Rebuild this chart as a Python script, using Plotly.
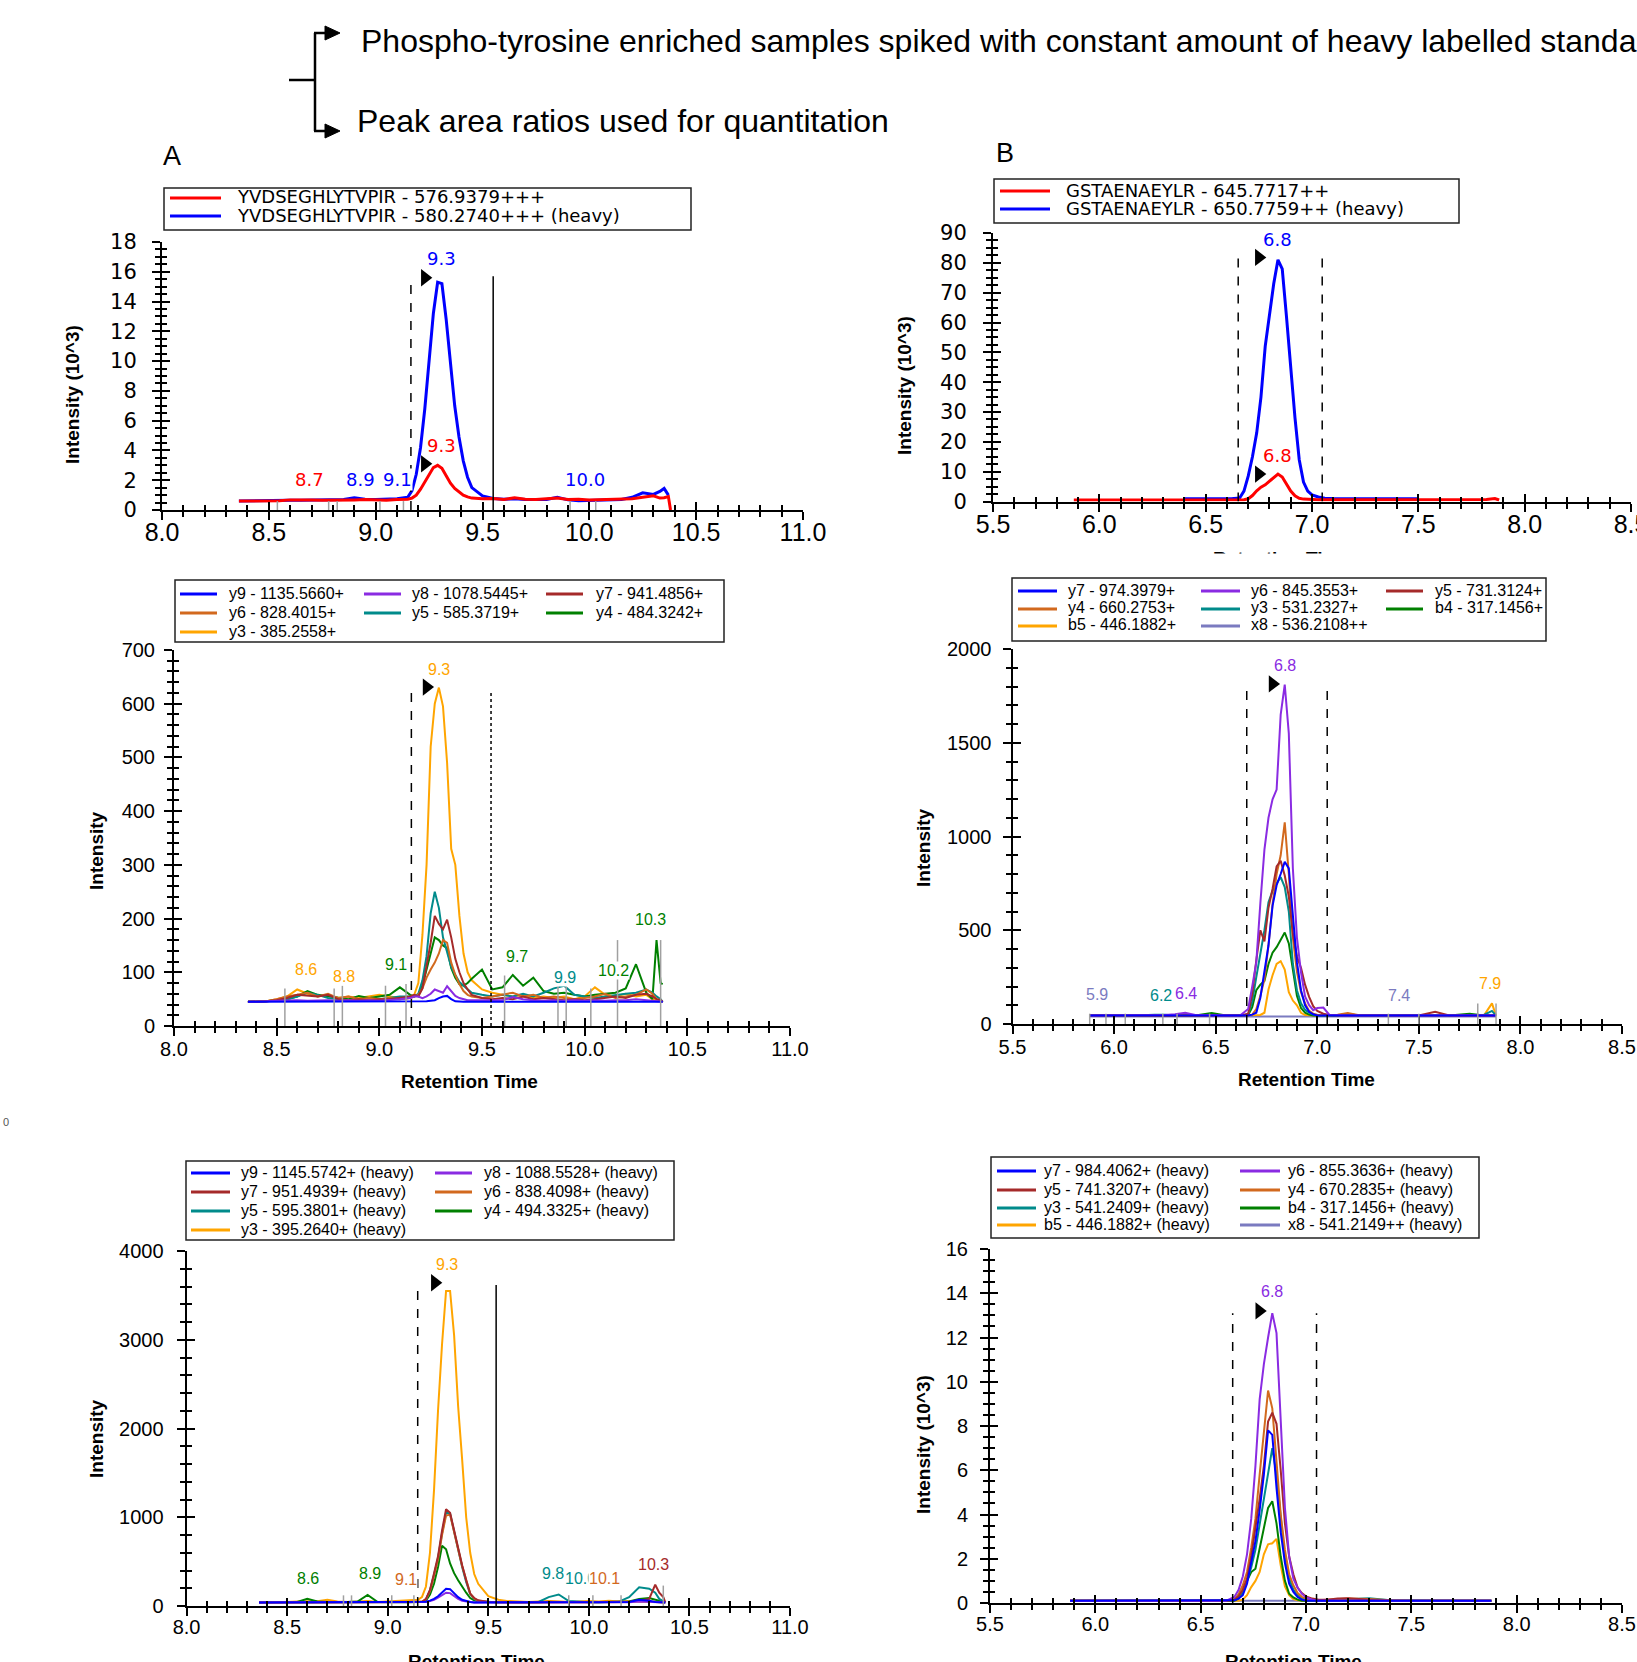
import plotly.graph_objects as go

W, H = 1637, 1662

# ---------------- data ----------------
xA = [8.36, 8.40, 8.45, 8.50, 8.55, 8.60, 8.65, 8.70, 8.75, 8.80,
      8.85, 8.90, 8.95, 9.00, 9.05, 9.10, 9.15, 9.17, 9.19, 9.21,
      9.23, 9.25, 9.27, 9.29, 9.31, 9.33, 9.35, 9.37, 9.39, 9.41,
      9.43, 9.45, 9.50, 9.55, 9.60, 9.65, 9.70, 9.75, 9.80, 9.85,
      9.90, 9.95, 10.00, 10.05, 10.10, 10.15, 10.20, 10.25, 10.30, 10.33,
      10.35, 10.37, 10.38]
xB = [5.88, 5.95, 6.00, 6.10, 6.20, 6.25, 6.30, 6.35, 6.40, 6.48,
      6.55, 6.62, 6.66, 6.68, 6.70, 6.72, 6.74, 6.76, 6.78, 6.80,
      6.82, 6.84, 6.86, 6.88, 6.90, 6.92, 6.94, 6.96, 6.98, 7.00,
      7.03, 7.06, 7.10, 7.15, 7.20, 7.30, 7.40, 7.50, 7.58, 7.65,
      7.75, 7.82, 7.86, 7.88]

# Panel A top (intensity 10^3)
a1_light = [0.60, 0.60, 0.60, 0.62, 0.62, 0.68, 0.70, 0.68, 0.66, 0.65,
            0.65, 0.68, 0.70, 0.68, 0.66, 0.70, 0.72, 0.80, 1.00, 1.40,
            1.90, 2.40, 2.85, 3.00, 2.80, 2.30, 1.80, 1.45, 1.20, 1.00,
            0.88, 0.80, 0.75, 0.78, 0.70, 0.82, 0.72, 0.70, 0.75, 0.80,
            0.70, 0.72, 0.68, 0.70, 0.68, 0.72, 0.75, 0.85, 0.95, 0.80,
            0.82, 0.90, 0.00]
a1_heavy = [0.60, 0.60, 0.60, 0.62, 0.62, 0.65, 0.66, 0.66, 0.65, 0.65,
            0.70, 0.82, 0.72, 0.70, 0.72, 0.75, 0.85, 1.30, 2.40, 4.20,
            6.80, 10.0, 13.2, 15.3, 15.2, 12.8, 9.80, 7.00, 4.90, 3.30,
            2.20, 1.50, 0.95, 0.78, 0.72, 0.75, 0.70, 0.72, 0.70, 0.85,
            0.68, 0.62, 0.65, 0.66, 0.68, 0.70, 0.85, 1.15, 1.05, 1.25,
            1.45, 1.00, None]

# Panel A middle (light transitions)
a2_y9 = [45, 45, 45, 45, 45, 45, 45, 45, 45, 45,
         45, 45, 45, 45, 45, 45, 45, 45, 45, 46,
         46, 47, 48, 52, 55, 56, 50, 46, 45, 45,
         45, 45, 45, 45, 45, 45, 45, 45, 45, 45,
         45, 45, 45, 45, 45, 45, 45, 45, 45, 45,
         45, 45, 45]
a2_y8 = [45, 45, 46, 47, 48, 48, 47, 48, 48, 47,
         48, 47, 48, 47, 48, 50, 52, 55, 55, 52,
         55, 60, 68, 65, 62, 74, 65, 56, 52, 50,
         48, 48, 48, 47, 48, 54, 50, 48, 47, 48,
         47, 48, 47, 48, 47, 48, 48, 50, 48, 48,
         47, 46, 45]
a2_y7 = [45, 45, 46, 48, 52, 58, 56, 55, 58, 50,
         48, 50, 48, 50, 50, 52, 55, 58, 55, 70,
         110, 155, 205, 190, 180, 198, 165, 125, 100, 80,
         68, 58, 52, 50, 52, 50, 55, 50, 52, 50,
         48, 50, 48, 50, 52, 55, 52, 58, 60, 55,
         50, 48, 45]
a2_y6 = [45, 45, 46, 50, 55, 58, 62, 55, 60, 52,
         55, 50, 52, 50, 52, 50, 52, 55, 58, 70,
         90, 105, 118, 135, 160, 155, 118, 95, 78, 65,
         58, 55, 52, 55, 58, 62, 55, 58, 52, 55,
         52, 50, 52, 55, 60, 52, 55, 58, 68, 60,
         50, 48, 45]
a2_y5 = [45, 45, 46, 48, 50, 55, 62, 58, 52, 50,
         48, 50, 48, 50, 52, 55, 55, 55, 60, 85,
         130, 210, 250, 220, 165, 135, 110, 95, 82, 75,
         68, 62, 58, 55, 58, 55, 60, 55, 62, 70,
         75, 58, 55, 52, 55, 58, 60, 62, 68, 62,
         55, 50, 45]
a2_y4 = [45, 45, 46, 48, 50, 55, 65, 58, 55, 52,
         50, 56, 52, 55, 58, 72, 58, 55, 58, 75,
         105, 135, 165, 160, 150, 145, 108, 90, 78, 75,
         80, 88, 105, 68, 72, 95, 75, 90, 65, 60,
         62, 58, 55, 58, 60, 62, 70, 115, 62, 50,
         160, 80, 78]
a2_y3 = [45, 45, 46, 50, 55, 68, 60, 55, 58, 52,
         55, 52, 55, 58, 55, 52, 55, 58, 80, 170,
         300, 520, 600, 630, 595, 490, 330, 300, 205, 135,
         100, 85, 68, 62, 58, 55, 58, 52, 55, 52,
         55, 50, 55, 72, 58, 55, 60, 55, 58, 50,
         48, 46, 45]

# Panel A bottom (heavy transitions)
a3_y9 = [40, 40, 40, 40, 40, 40, 40, 40, 40, 40,
         40, 40, 40, 40, 40, 40, 40, 42, 48, 60,
         80, 110, 150, 195, 190, 140, 100, 70, 55, 45,
         40, 40, 40, 40, 40, 40, 40, 40, 40, 42,
         40, 40, 40, 40, 40, 40, 45, 70, 60, 45,
         42, 40, 40]
a3_y8 = [40, 40, 40, 40, 40, 40, 40, 40, 40, 40,
         40, 40, 40, 40, 40, 40, 40, 42, 45, 55,
         70, 95, 125, 150, 145, 110, 80, 60, 50, 45,
         40, 40, 40, 40, 40, 40, 40, 40, 40, 40,
         40, 40, 40, 40, 40, 40, 42, 50, 45, 42,
         40, 40, 40]
a3_y7 = [40, 40, 40, 40, 40, 40, 40, 40, 40, 40,
         40, 40, 40, 40, 40, 40, 40, 45, 80, 180,
         365, 560, 850, 1090, 1050, 850, 665, 460, 290, 140,
         90, 64, 45, 40, 40, 40, 40, 40, 40, 42,
         40, 40, 40, 40, 40, 42, 45, 60, 80, 240,
         150, 100, 40]
a3_y6 = [40, 40, 40, 40, 40, 42, 45, 48, 42, 40,
         40, 42, 40, 40, 42, 45, 50, 50, 75, 170,
         340, 530, 800, 1020, 1030, 850, 640, 450, 280, 140,
         85, 58, 45, 42, 40, 42, 45, 42, 48, 45,
         42, 40, 42, 45, 48, 50, 45, 55, 50, 45,
         42, 40, 40]
a3_y5 = [40, 40, 40, 40, 42, 40, 40, 40, 40, 40,
         40, 40, 40, 40, 40, 40, 40, 45, 70, 175,
         350, 540, 820, 1050, 1040, 840, 620, 440, 270, 135,
         80, 55, 45, 42, 40, 40, 42, 45, 100, 130,
         55, 45, 42, 40, 42, 50, 100, 210, 195, 150,
         80, 55, 40]
a3_y4 = [40, 40, 40, 40, 45, 80, 50, 45, 42, 45,
         50, 125, 45, 42, 40, 42, 45, 45, 60, 130,
         250, 440, 680, 640, 480, 370, 290, 215, 150, 90,
         65, 50, 45, 42, 45, 42, 45, 42, 45, 45,
         42, 40, 42, 45, 42, 45, 50, 80, 90, 70,
         60, 50, 40]
a3_y3 = [40, 40, 45, 45, 50, 55, 55, 70, 50, 45,
         50, 55, 45, 50, 55, 60, 70, 100, 220, 600,
         1300, 2200, 2950, 3550, 3550, 3050, 2250, 1650, 1000, 600,
         360, 250, 110, 70, 55, 50, 45, 50, 55, 50,
         45, 50, 55, 50, 60, 50, 55, 50, 50, 45,
         45, 42, 40]

# Panel B top (intensity 10^3)
b1_light = [0.5, 0.5, 0.5, 0.5, 0.5, 0.5, 0.5, 0.5, 0.5, 0.5,
            0.5, 0.5, 0.5, 0.6, 0.9, 2.0, 3.6, 4.8, 5.6, 6.8,
            8.0, 9.2, 8.2, 5.6, 3.5, 1.9, 1.1, 0.8, 0.7, 0.7,
            0.6, 0.6, 0.6, 0.6, 0.6, 0.6, 0.6, 0.6, 0.6, 0.6,
            0.6, 0.7, 1.0, 0.5]
b1_heavy = [None, None, None, None, None, None, None, None, 0.9, 0.9,
            0.9, 0.9, 1.2, 3.5, 8.5, 15.0, 23.0, 35.0, 52.0, 62.0,
            73.0, 81.0, 78.0, 62.0, 44.0, 28.0, 14.0, 6.5, 3.5, 2.2,
            1.5, 1.1, 1.0, 1.0, 1.0, 1.0, 0.9, 0.9, None, None,
            None, None, None, None]

# Panel B middle (light transitions)
b2_y7 = [45, 45, 45, 45, 45, 45, 45, 45, 45, 45,
         45, 45, 46, 50, 60, 140, 270, 420, 630, 740,
         800, 865, 830, 600, 330, 180, 100, 65, 52, 45,
         45, 45, 45, 45, 45, 45, 45, 45, 45, 45,
         45, 45, 45, 45]
b2_y6 = [45, 45, 45, 45, 45, 48, 52, 60, 48, 45,
         45, 45, 80, 200, 330, 645, 930, 1100, 1198, 1250,
         1650, 1810, 1550, 829, 461, 276, 147, 100, 74, 85,
         88, 48, 45, 45, 45, 45, 45, 45, 45, 45,
         45, 45, 45, 45]
b2_y5 = [45, 45, 45, 45, 45, 45, 45, 45, 45, 45,
         45, 45, 55, 160, 340, 500, 440, 620, 720, 840,
         870, 792, 680, 480, 360, 300, 210, 145, 95, 70,
         55, 48, 45, 45, 45, 45, 45, 45, 65, 45,
         45, 45, 45, 45]
b2_y4 = [45, 45, 45, 45, 45, 45, 45, 45, 45, 45,
         45, 45, 45, 50, 80, 150, 240, 420, 640, 800,
         900, 1075, 800, 461, 280, 170, 110, 70, 55, 50,
         48, 45, 50, 58, 48, 45, 45, 45, 45, 45,
         45, 45, 45, 45]
b2_y3 = [45, 45, 45, 45, 50, 50, 45, 45, 45, 45,
         45, 45, 50, 120, 250, 369, 500, 650, 710, 750,
         783, 730, 600, 320, 180, 110, 75, 60, 50, 45,
         45, 45, 45, 45, 45, 45, 45, 45, 45, 45,
         45, 48, 70, 45]
b2_b4 = [45, 45, 45, 45, 45, 45, 45, 45, 45, 58,
         45, 45, 48, 90, 180, 210, 230, 320, 380, 410,
         450, 488, 430, 300, 150, 85, 60, 50, 45, 45,
         45, 45, 45, 55, 45, 45, 45, 45, 45, 45,
         55, 45, 45, 45]
b2_b5 = [45, 45, 45, 45, 45, 45, 45, 45, 45, 45,
         45, 45, 45, 45, 45, 48, 60, 184, 260, 320,
         335, 290, 170, 125, 100, 60, 48, 45, 45, 45,
         45, 45, 45, 45, 45, 45, 45, 45, 45, 45,
         45, 45, 110, 45]
b2_x8 = [40, 40, 40, 40, 40, 40, 40, 40, 40, 40,
         40, 40, 40, 40, 40, 40, 40, 40, 40, 40,
         40, 40, 40, 40, 40, 40, 40, 40, 40, 40,
         40, 40, 40, 40, 40, 40, 40, 40, 40, 40,
         40, 40, 40, 40]

# Panel B bottom (heavy transitions, 10^3)
b3_y7 = [0.1, 0.1, 0.1, 0.1, 0.1, 0.1, 0.1, 0.1, 0.1, 0.1,
         0.1, 0.1, 0.12, 0.2, 0.35, 0.87, 1.8, 2.8, 4.2, 5.8,
         7.8, 7.6, 5.2, 3.2, 1.8, 0.87, 0.5, 0.27, 0.15, 0.1,
         0.1, 0.1, 0.1, 0.1, 0.1, 0.1, 0.1, 0.1, 0.1, 0.1,
         0.1, 0.1, 0.1, 0.1]
b3_y6 = [0.1, 0.1, 0.1, 0.1, 0.1, 0.1, 0.1, 0.1, 0.1, 0.1,
         0.1, 0.1, 0.27, 0.6, 1.2, 2.2, 3.8, 6.2, 9.2, 10.8,
         12.0, 13.1, 12.2, 8.5, 4.3, 2.1, 1.1, 0.7, 0.42, 0.25,
         0.15, 0.1, 0.1, 0.1, 0.1, 0.1, 0.1, 0.1, 0.1, 0.1,
         0.1, 0.1, 0.1, 0.1]
b3_y5 = [0.1, 0.1, 0.1, 0.1, 0.1, 0.1, 0.1, 0.1, 0.1, 0.1,
         0.1, 0.1, 0.15, 0.3, 0.6, 1.1, 2.1, 3.3, 4.7, 6.2,
         8.2, 8.6, 8.1, 6.0, 3.6, 2.1, 1.3, 0.7, 0.45, 0.3,
         0.2, 0.15, 0.15, 0.2, 0.22, 0.15, 0.1, 0.1, 0.1, 0.1,
         0.1, 0.1, 0.1, 0.1]
b3_y4 = [0.1, 0.1, 0.1, 0.1, 0.1, 0.1, 0.1, 0.1, 0.1, 0.1,
         0.1, 0.1, 0.15, 0.4, 0.8, 1.4, 2.5, 3.8, 5.8, 7.6,
         9.6, 8.8, 6.3, 4.0, 2.4, 1.3, 0.8, 0.45, 0.28, 0.2,
         0.15, 0.12, 0.15, 0.18, 0.2, 0.18, 0.12, 0.1, 0.1, 0.1,
         0.1, 0.1, 0.1, 0.1]
b3_y3 = [0.1, 0.1, 0.1, 0.1, 0.1, 0.1, 0.1, 0.1, 0.1, 0.1,
         0.1, 0.1, 0.12, 0.25, 0.5, 1.0, 1.6, 2.4, 3.6, 4.8,
         6.0, 7.0, 5.8, 3.9, 2.0, 1.1, 0.6, 0.35, 0.2, 0.15,
         0.12, 0.1, 0.12, 0.15, 0.18, 0.22, 0.12, 0.1, 0.1, 0.1,
         0.1, 0.1, 0.1, 0.1]
b3_b4 = [0.1, 0.1, 0.1, 0.1, 0.1, 0.1, 0.1, 0.1, 0.1, 0.1,
         0.1, 0.1, 0.1, 0.2, 0.5, 1.0, 1.4, 1.55, 2.5, 3.5,
         4.3, 4.6, 3.6, 2.1, 1.0, 0.42, 0.25, 0.15, 0.1, 0.1,
         0.1, 0.1, 0.1, 0.1, 0.1, 0.1, 0.1, 0.1, 0.1, 0.1,
         0.1, 0.1, 0.1, 0.1]
b3_b5 = [0.1, 0.1, 0.1, 0.1, 0.1, 0.1, 0.1, 0.1, 0.1, 0.1,
         0.1, 0.1, 0.1, 0.1, 0.15, 0.35, 0.72, 1.0, 1.4, 2.2,
         2.65, 2.7, 2.9, 1.7, 0.75, 0.35, 0.18, 0.12, 0.1, 0.1,
         0.1, 0.1, 0.1, 0.1, 0.1, 0.1, 0.1, 0.1, 0.1, 0.1,
         0.1, 0.1, 0.1, 0.1]
b3_x8 = [0.1, 0.1, 0.1, 0.1, 0.1, 0.1, 0.1, 0.1, 0.1, 0.1,
         0.1, 0.1, 0.1, 0.1, 0.1, 0.1, 0.1, 0.1, 0.1, 0.1,
         0.1, 0.1, 0.1, 0.1, 0.1, 0.1, 0.1, 0.1, 0.1, 0.1,
         0.1, 0.1, 0.1, 0.1, 0.1, 0.1, 0.1, 0.1, 0.1, 0.1,
         0.1, 0.1, 0.1, 0.1]

# peak apex labels: text, x, y, colour key
a1_labels = [("8.7", 8.69, 2.06, "red"), ("8.9", 8.93, 2.06, "blue"), ("9.1", 9.10, 2.06, "blue"),
             ("9.3", 9.31, 4.3, "red"), ("9.3", 9.31, 16.9, "blue"), ("10.0", 9.98, 2.06, "blue")]
b1_labels = [("6.8", 6.84, 87.9, "blue"), ("6.8", 6.84, 15.3, "red")]
a2_labels = [("9.3", 9.29, 664, "orange"), ("8.6", 8.645, 106, "orange"), ("8.8", 8.83, 93, "orange"),
             ("9.1", 9.08, 114, "green"), ("9.7", 9.67, 130, "green"), ("9.9", 9.905, 91, "teal"),
             ("10.2", 10.14, 103, "green"), ("10.3", 10.32, 199, "green")]
b2_labels = [("6.8", 6.84, 1910, "purple"), ("5.9", 5.917, 158, "slate"), ("6.2", 6.23, 153, "teal"),
             ("6.4", 6.355, 164, "purple"), ("7.4", 7.40, 153, "slate"), ("7.9", 7.85, 215, "orange")]
a3_labels = [("9.3", 9.297, 3845, "orange"), ("8.6", 8.606, 310, "green"), ("8.9", 8.91, 370, "green"),
             ("9.1", 9.09, 300, "choc"), ("9.8", 9.824, 370, "teal"), ("10.0", 9.956, 310, "teal"),
             ("10.1", 10.08, 310, "choc"), ("10.3", 10.32, 465, "brown")]
b3_labels = [("6.8", 6.839, 14.08, "purple")]

# apex arrows (x, y)
a1_tri = ([9.23, 9.23], [15.6, 3.1])
b1_tri = ([6.75, 6.75], [81.8, 9.2])
a2_tri = ([9.23], [631])
b2_tri = ([6.78], [1814])
a3_tri = ([9.234], [3642])
b3_tri = ([6.778], [13.2])

# integration boundaries (x values) and their height
a1_bounds, a1_btop = [9.165, 9.55], 15.7
b1_bounds, b1_btop = [6.653, 7.048], 81.8
a2_bounds, a2_btop = [9.156, 9.544], 625
b2_bounds, b2_btop = [6.653, 7.049], 1797
a3_bounds, a3_btop = [9.149, 9.539], 3618
b3_bounds, b3_btop = [6.652, 7.05], 13.1

# grey peak boundary markers (x, top)
a1_marks = ([8.54, 8.78, 8.82, 9.02, 9.13, 9.91, 10.03], [0.6, 0.6, 0.6, 0.6, 0.6, 0.6, 0.6])
a2_marks = ([8.54, 8.78, 8.82, 9.03, 9.13, 9.61, 9.87, 9.91, 10.03, 10.16, 10.37],
            [70, 70, 75, 75, 78, 94, 80, 75, 70, 160, 160])
a3_marks = ([8.78, 8.82, 9.02, 9.13, 9.90, 10.02, 10.16, 10.37], [120, 120, 120, 120, 120, 120, 120, 230])
b2_marks = ([5.88, 5.96, 6.055, 6.24, 6.31, 6.47, 7.35, 7.50, 7.79, 7.88],
            [55, 55, 55, 55, 55, 55, 55, 55, 110, 110])

COL = dict(red="#FF0000", blue="#0000FF", purple="#8A2BE2", brown="#A52A2A", choc="#D2691E",
           teal="#008B8B", green="#008000", orange="#FFA500", slate="#7B7BC0")

ARIAL = "Liberation Sans, Arial, sans-serif"
WIDE = "DejaVu Sans, Verdana, sans-serif"


def PX(x):
    return x / W


def PY(y):
    return 1 - y / H


panels = [
    dict(i=1, box=(162, 242, 803, 510), xr=[8, 11], yr=[0, 18], ydt=2, ymin=0.5, x=xA,
         series=[("YVDSEGHLYTVPIR - 576.9379+++", "red", a1_light),
                 ("YVDSEGHLYTVPIR - 580.2740+++ (heavy)", "blue", a1_heavy)],
         lw=3, xfont=(ARIAL, 25), yfont=(WIDE, 21), xstand=-9, ystand=11,
         leg=dict(box=(164, 188, 691, 230), rows=[197, 215], cols=[(170, 221, 235)],
                  pos=[(0, 0), (0, 1)], font=(WIDE, 18)),
         labels=a1_labels, lfont=(WIDE, 18), tri=a1_tri, bounds=a1_bounds, btop=a1_btop,
         bdash=["dash", "solid"], marks=a1_marks,
         ytitle=("Intensity (10^3)", 72, 395)),
    dict(i=2, box=(993, 233, 1631, 501.5), xr=[5.5, 8.5], yr=[0, 90], ydt=10, ymin=2.5, x=xB,
         series=[("GSTAENAEYLR - 645.7717++", "red", b1_light),
                 ("GSTAENAEYLR - 650.7759++ (heavy)", "blue", b1_heavy)],
         lw=3, xfont=(ARIAL, 25), yfont=(WIDE, 21), xstand=-9, ystand=12,
         leg=dict(box=(994, 179, 1459, 223), rows=[190, 208], cols=[(1000, 1050, 1064)],
                  pos=[(0, 0), (0, 1)], font=(WIDE, 18)),
         labels=b1_labels, lfont=(WIDE, 18), tri=b1_tri, bounds=b1_bounds, btop=b1_btop,
         bdash=["dash", "dash"], marks=None,
         ytitle=("Intensity (10^3)", 904, 386)),
    dict(i=3, box=(174, 650, 790, 1026), xr=[8, 11], yr=[0, 700], ydt=100, ymin=20, x=xA,
         series=[("y9 - 1135.5660+", "blue", a2_y9), ("y8 - 1078.5445+", "purple", a2_y8),
                 ("y7 - 941.4856+", "brown", a2_y7), ("y6 - 828.4015+", "choc", a2_y6),
                 ("y5 - 585.3719+", "teal", a2_y5), ("y4 - 484.3242+", "green", a2_y4),
                 ("y3 - 385.2558+", "orange", a2_y3)],
         lw=2, xfont=(ARIAL, 20), yfont=(ARIAL, 20), xstand=-4, ystand=5,
         leg=dict(box=(175, 580, 724, 642), rows=[593, 612, 631],
                  cols=[(180, 217, 227), (364, 401, 410), (546, 583, 594)],
                  pos=[(0, 0), (1, 0), (2, 0), (0, 1), (1, 1), (2, 1), (0, 2)], font=(ARIAL, 16)),
         labels=a2_labels, lfont=(ARIAL, 16), tri=a2_tri, bounds=a2_bounds, btop=a2_btop,
         bdash=["dash", "dot"], marks=a2_marks,
         ytitle=("Intensity", 96, 851), xtitle=("Retention Time", 470, 1081, "middle")),
    dict(i=4, box=(1012.5, 649, 1622, 1024), xr=[5.5, 8.5], yr=[0, 2000], ydt=500, ymin=100, x=xB,
         series=[("y7 - 974.3979+", "blue", b2_y7), ("y6 - 845.3553+", "purple", b2_y6),
                 ("y5 - 731.3124+", "brown", b2_y5), ("y4 - 660.2753+", "choc", b2_y4),
                 ("y3 - 531.2327+", "teal", b2_y3), ("b4 - 317.1456+", "green", b2_b4),
                 ("b5 - 446.1882+", "orange", b2_b5), ("x8 - 536.2108++", "slate", b2_x8)],
         lw=2, xfont=(ARIAL, 20), yfont=(ARIAL, 20), xstand=-4, ystand=7,
         leg=dict(box=(1012, 578, 1546, 641), rows=[590, 608, 625],
                  cols=[(1018, 1057, 1066), (1201, 1240, 1249), (1386, 1423, 1433)],
                  pos=[(0, 0), (1, 0), (2, 0), (0, 1), (1, 1), (2, 1), (0, 2), (1, 2)], font=(ARIAL, 16)),
         labels=b2_labels, lfont=(ARIAL, 16), tri=b2_tri, bounds=b2_bounds, btop=b2_btop,
         bdash=["dash", "dash"], marks=b2_marks,
         ytitle=("Intensity", 923, 848), xtitle=("Retention Time", 1306, 1079, "middle")),
    dict(i=5, box=(186.6, 1251, 790, 1606), xr=[8, 11], yr=[0, 4000], ydt=1000, ymin=200, x=xA,
         series=[("y9 - 1145.5742+ (heavy)", "blue", a3_y9), ("y8 - 1088.5528+ (heavy)", "purple", a3_y8),
                 ("y7 - 951.4939+ (heavy)", "brown", a3_y7), ("y6 - 838.4098+ (heavy)", "choc", a3_y6),
                 ("y5 - 595.3801+ (heavy)", "teal", a3_y5), ("y4 - 494.3325+ (heavy)", "green", a3_y4),
                 ("y3 - 395.2640+ (heavy)", "orange", a3_y3)],
         lw=2, xfont=(ARIAL, 20), yfont=(ARIAL, 20), xstand=-6, ystand=9,
         leg=dict(box=(186, 1161, 674, 1240), rows=[1172, 1191, 1210, 1229],
                  cols=[(191, 230, 239), (435, 472, 482)],
                  pos=[(0, 0), (1, 0), (0, 1), (1, 1), (0, 2), (1, 2), (0, 3)], font=(ARIAL, 16)),
         labels=a3_labels, lfont=(ARIAL, 16), tri=a3_tri, bounds=a3_bounds, btop=a3_btop,
         bdash=["dash", "solid"], marks=a3_marks,
         ytitle=("Intensity", 96, 1439), xtitle=("Retention Time", 476, 1649, "top")),
    dict(i=6, box=(990, 1249, 1622, 1603), xr=[5.5, 8.5], yr=[0, 16], ydt=2, ymin=0.5, x=xB,
         series=[("y7 - 984.4062+ (heavy)", "blue", b3_y7), ("y6 - 855.3636+ (heavy)", "purple", b3_y6),
                 ("y5 - 741.3207+ (heavy)", "brown", b3_y5), ("y4 - 670.2835+ (heavy)", "choc", b3_y4),
                 ("y3 - 541.2409+ (heavy)", "teal", b3_y3), ("b4 - 317.1456+ (heavy)", "green", b3_b4),
                 ("b5 - 446.1882+ (heavy)", "orange", b3_b5), ("x8 - 541.2149++ (heavy)", "slate", b3_x8)],
         lw=2, xfont=(ARIAL, 20), yfont=(ARIAL, 20), xstand=-6, ystand=8,
         leg=dict(box=(991, 1157, 1479, 1238), rows=[1170, 1189, 1207, 1224],
                  cols=[(997, 1036, 1042), (1240, 1280, 1286)],
                  pos=[(0, 0), (1, 0), (0, 1), (1, 1), (0, 2), (1, 2), (0, 3), (1, 3)], font=(ARIAL, 16)),
         labels=b3_labels, lfont=(ARIAL, 16), tri=b3_tri, bounds=b3_bounds, btop=b3_btop,
         bdash=["dash", "dash"], marks=None,
         ytitle=("Intensity (10^3)", 923, 1445), xtitle=("Retention Time", 1293, 1649, "top")),
]

fig = go.Figure()
layout = dict(width=W, height=H, margin=dict(l=0, r=0, t=0, b=0, pad=0, autoexpand=False),
              paper_bgcolor="white", plot_bgcolor="rgba(0,0,0,0)", showlegend=False)
shapes, annos = [], []

for p in panels:
    i = p["i"]
    x0, y1, x1, y0 = p["box"]
    xd = [PX(x0), PX(x1)]
    yd = [PY(y0), PY(y1)]
    xa, ya = f"x{i}", f"y{i}"
    common = dict(showgrid=False, zeroline=False, tickcolor="black", tickwidth=2, ticklen=8, automargin=False)
    layout[f"xaxis{i}"] = dict(domain=xd, range=p["xr"], anchor=ya, showline=True, linecolor="black",
                               linewidth=2, ticks="outside", dtick=0.5, tick0=p["xr"][0], tickformat=".1f",
                               tickfont=dict(family=p["xfont"][0], size=p["xfont"][1], color="black"),
                               ticklabelstandoff=p["xstand"], ticklabeloverflow="allow",
                               minor=dict(dtick=0.1, ticks="outside", ticklen=5, tickwidth=1.5,
                                          tickcolor="black", showgrid=False), **common)
    layout[f"yaxis{i}"] = dict(domain=yd, range=p["yr"], anchor=xa, showline=True, linecolor="black",
                               linewidth=2, ticks="outside", dtick=p["ydt"], tick0=0,
                               tickfont=dict(family=p["yfont"][0], size=p["yfont"][1], color="black"),
                               ticklabelstandoff=p["ystand"], ticklabeloverflow="allow",
                               minor=dict(dtick=p["ymin"], ticks="outside", ticklen=5, tickwidth=1.5,
                                          tickcolor="black", showgrid=False), **common)
    # overlay axes give the crossing tick marks
    layout[f"xaxis{i+6}"] = dict(overlaying=xa, anchor=ya, range=p["xr"], showline=False, ticks="inside",
                                 dtick=0.5, tick0=p["xr"][0], showticklabels=False,
                                 minor=dict(dtick=0.1, ticks="inside", ticklen=5, tickwidth=1.5,
                                            tickcolor="black", showgrid=False), **common)
    layout[f"yaxis{i+6}"] = dict(overlaying=ya, anchor=xa, range=p["yr"], showline=False, ticks="inside",
                                 dtick=p["ydt"], tick0=0, showticklabels=False,
                                 minor=dict(dtick=p["ymin"], ticks="inside", ticklen=5, tickwidth=1.5,
                                            tickcolor="black", showgrid=False), **common)
    fig.add_trace(go.Scatter(x=[None], y=[None], xaxis=f"x{i+6}", yaxis=ya, showlegend=False, hoverinfo="skip"))
    fig.add_trace(go.Scatter(x=[None], y=[None], xaxis=xa, yaxis=f"y{i+6}", showlegend=False, hoverinfo="skip"))

    # grey peak-boundary markers
    if p["marks"]:
        for mx, mt in zip(*p["marks"]):
            shapes.append(dict(type="line", xref=xa, yref=ya, x0=mx, x1=mx, y0=0, y1=mt,
                               line=dict(color="#a0a0a0", width=1.5)))
    # integration boundaries
    for bx, bd in zip(p["bounds"], p["bdash"]):
        shapes.append(dict(type="line", xref=xa, yref=ya, x0=bx, x1=bx, y0=0, y1=p["btop"],
                           line=dict(color="black", width=1.5, dash=bd)))

    # chromatogram traces: first legend entry on top
    for name, ck, vals in reversed(p["series"]):
        fig.add_trace(go.Scatter(x=p["x"], y=vals, mode="lines", xaxis=xa, yaxis=ya, name=name,
                                 line=dict(color=COL[ck], width=p["lw"]), connectgaps=False,
                                 showlegend=False))
    # apex arrows
    fig.add_trace(go.Scatter(x=p["tri"][0], y=p["tri"][1], mode="markers", xaxis=xa, yaxis=ya,
                             marker=dict(symbol="triangle-right", size=15, color="black"),
                             showlegend=False, hoverinfo="skip"))
    # apex labels
    for t, lx, ly, ck in p["labels"]:
        annos.append(dict(xref=xa, yref=ya, x=lx, y=ly, text=t, showarrow=False, bgcolor="white",
                          xanchor="center", yanchor="middle", borderpad=0,
                          font=dict(family=p["lfont"][0], size=p["lfont"][1], color=COL[ck])))

    # manual legend box
    lg = p["leg"]
    bx0, by0, bx1, by1 = lg["box"]
    shapes.append(dict(type="rect", xref="paper", yref="paper", x0=PX(bx0), x1=PX(bx1), y0=PY(by1), y1=PY(by0),
                       line=dict(color="#222", width=1.5), fillcolor="white", layer="below"))
    for (name, ck, _), (c, r) in zip(p["series"], lg["pos"]):
        lx0, lx1, tx = lg["cols"][c]
        ry = lg["rows"][r]
        shapes.append(dict(type="line", xref="paper", yref="paper", x0=PX(lx0), x1=PX(lx1), y0=PY(ry + 1),
                           y1=PY(ry + 1), line=dict(color=COL[ck], width=3)))
        annos.append(dict(xref="paper", yref="paper", x=PX(tx), y=PY(ry), text=name, showarrow=False,
                          xanchor="left", yanchor="middle",
                          font=dict(family=lg["font"][0], size=lg["font"][1], color="black")))

    # axis titles
    t, tx, ty = p["ytitle"]
    annos.append(dict(xref="paper", yref="paper", x=PX(tx), y=PY(ty), text=f"<b>{t}</b>", showarrow=False,
                      textangle=-90, xanchor="center", yanchor="middle",
                      font=dict(family=ARIAL, size=19, color="black")))
    if "xtitle" in p:
        t, tx, ty, anc = p["xtitle"]
        annos.append(dict(xref="paper", yref="paper", x=PX(tx), y=PY(ty), text=f"<b>{t}</b>", showarrow=False,
                          xanchor="center", yanchor=anc, font=dict(family=ARIAL, size=19, color="black")))

# partly hidden x title of panel B top
annos.append(dict(xref="paper", yref="paper", x=PX(1281), y=PY(546), text="<b>Retention Time</b>",
                  showarrow=False, xanchor="center", yanchor="top", font=dict(family=ARIAL, size=19, color="black")))
annos.append(dict(xref="paper", yref="paper", x=PX(1281), y=PY(553), text=" ", showarrow=False,
                  xanchor="center", yanchor="top", width=220, height=22, bgcolor="white", borderpad=0))

# panel letters
annos.append(dict(xref="paper", yref="paper", x=PX(172), y=PY(156), text="A", showarrow=False,
                  xanchor="center", yanchor="middle", font=dict(family=ARIAL, size=27, color="black")))
annos.append(dict(xref="paper", yref="paper", x=PX(1005), y=PY(153), text="B", showarrow=False,
                  xanchor="center", yanchor="middle", font=dict(family=ARIAL, size=27, color="black")))
annos.append(dict(xref="paper", yref="paper", x=PX(1), y=PY(1122), text="0", showarrow=False,
                  xanchor="left", yanchor="middle", font=dict(family=ARIAL, size=11, color="#555")))

# header with bracket and arrows
annos.append(dict(xref="paper", yref="paper", x=PX(359), y=PY(41), xanchor="left", yanchor="middle",
                  text="Phospho-tyrosine enriched samples spiked with constant amount of heavy labelled standards",
                  showarrow=False, font=dict(family=ARIAL, size=32, color="black")))
annos.append(dict(xref="paper", yref="paper", x=PX(355), y=PY(121), xanchor="left", yanchor="middle",
                  text="Peak area ratios used for quantitation", showarrow=False,
                  font=dict(family=ARIAL, size=32, color="black")))


def pline(xa_, ya_, xb_, yb_, w=2.5):
    return dict(type="line", xref="paper", yref="paper", x0=PX(xa_), y0=PY(ya_), x1=PX(xb_), y1=PY(yb_),
                line=dict(color="black", width=w))


def ptri(xb, yc, tip):
    path = f"M {PX(xb)} {PY(yc - 7)} L {PX(tip)} {PY(yc)} L {PX(xb)} {PY(yc + 7)} Z"
    return dict(type="path", xref="paper", yref="paper", path=path, fillcolor="black",
                line=dict(color="black", width=1))


shapes += [pline(289, 80, 315, 80), pline(315, 33, 315, 131), pline(314, 33, 326, 33), pline(314, 131, 326, 131),
           ptri(325, 33, 340), ptri(325, 131, 340)]

layout["shapes"] = shapes
layout["annotations"] = annos
fig.update_layout(**layout)
fig.write_html("out.html", config={"responsive": False, "displayModeBar": False},
               post_script="document.body.style.margin='0px';document.body.style.overflow='hidden';")
